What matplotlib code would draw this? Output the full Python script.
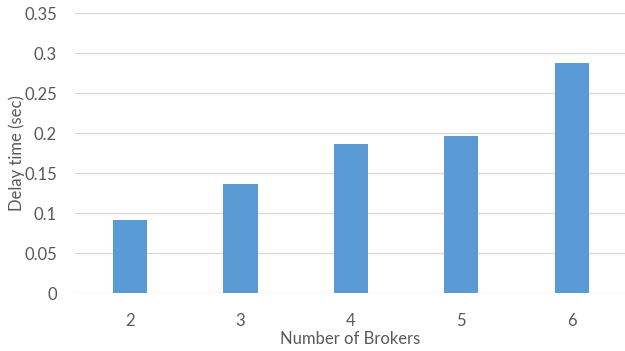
import matplotlib.pyplot as plt

brokers = ["2", "3", "4", "5", "6"]
delay = [0.092, 0.137, 0.187, 0.197, 0.288]
y_ticks = [0, 0.05, 0.1, 0.15, 0.2, 0.25, 0.3, 0.35]
y_tick_labels = ["0", "0.05", "0.1", "0.15", "0.2", "0.25", "0.3", "0.35"]

text_color = "#595959"
grid_color = "#d9d9d9"

plt.rcParams["font.family"] = ["Lato", "DejaVu Sans"]

fig = plt.figure(figsize=(6.25, 3.51), dpi=100)
ax = fig.add_axes([0.12, 0.1644, 0.883, 0.7976])

positions = range(len(brokers))
ax.bar(positions, delay, width=0.31, color="#5b9bd5", zorder=3)

ax.set_xlim(-0.5, len(brokers) - 0.5)
ax.set_ylim(0, 0.35)
ax.set_yticks(y_ticks)
ax.set_yticklabels(y_tick_labels)
ax.set_xticks(list(positions))
ax.set_xticklabels(brokers)

ax.grid(axis="y", color=grid_color, linewidth=1, zorder=0)
for side in ["top", "right", "left", "bottom"]:
    ax.spines[side].set_visible(False)

ax.tick_params(axis="both", length=0, labelsize=12, colors=text_color)
ax.tick_params(axis="y", pad=13)
ax.tick_params(axis="x", pad=14)

ax.set_xlabel("Number of Brokers", fontsize=12, color=text_color)
ax.set_ylabel("Delay time (sec)", fontsize=12, color=text_color)
ax.xaxis.set_label_coords(0.498, -0.165)
ax.yaxis.set_label_coords(-0.105, 0.5)
ax.xaxis.label.set_va("center")
ax.yaxis.label.set_va("center")

plt.savefig("out.png", dpi=100)
plt.close()
